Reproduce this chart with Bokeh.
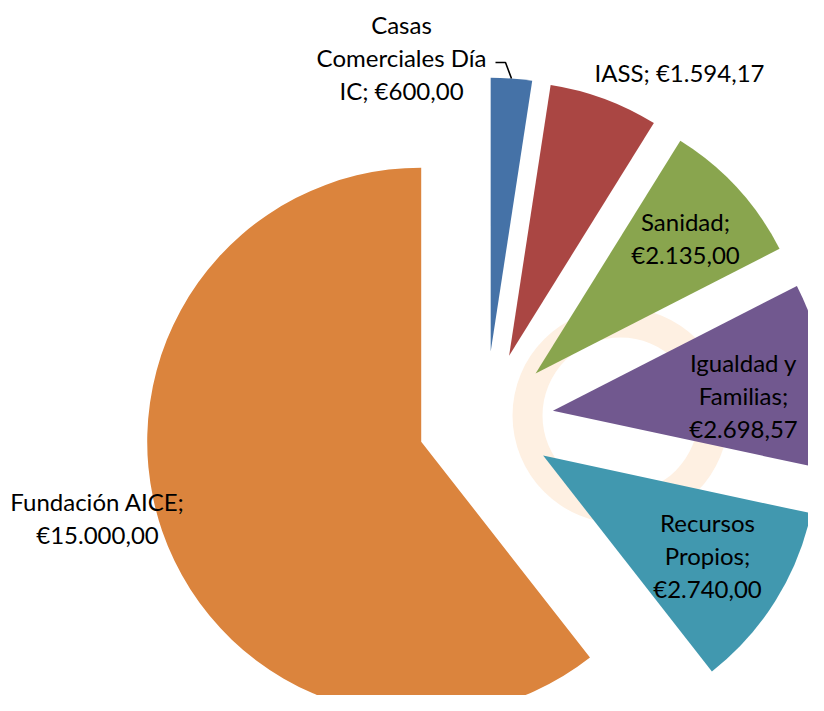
import numpy as np
from bokeh.plotting import figure
from bokeh.models import Range1d
from bokeh.embed import file_html
from bokeh.resources import INLINE
from bokeh.core.properties import value

# ---------------- data ----------------
categories = ["Casas Comerciales Día IC", "IASS", "Sanidad",
              "Igualdad y Familias", "Recursos Propios", "Fundación AICE"]
amounts = [600.00, 1594.17, 2135.00, 2698.57, 2740.00, 15000.00]
# how each data label is broken into lines ({v} = formatted value)
label_templates = [
    ["Casas", "Comerciales Día", "IC; {v}"],
    ["IASS; {v}"],
    ["Sanidad;", "{v}"],
    ["Igualdad y", "Familias;", "{v}"],
    ["Recursos", "Propios;", "{v}"],
    ["Fundación AICE;", "{v}"],
]

# ---------------- style / layout ----------------
colors = ["#4572A7", "#AA4643", "#89A54E", "#71588F", "#4198AF", "#DB843D"]
W, H = 808, 695
OFF = 0                       # figure pixel = reference pixel - OFF
CX, CY = 485.0, 419.0         # pie centre (reference pixels)
R = 274.0                     # radius
EXPLODE = 68.0                # explosion distance
FONT = "Lato"
FS = 24
LINE_H = 33
# centre of each label block (reference pixels)
label_anchor = [(401, 56), (679, 71), (685, 236), (743, 394), (707, 554), (97, 516)]


def eur(v):
    s = f"{v:,.2f}"
    s = s.replace(",", "X").replace(".", ",").replace("X", ".")
    return "€" + s


def to_data(x, y):
    return x, -y


p = figure(width=W, height=H, output_backend="svg", toolbar_location=None,
           x_range=Range1d(OFF, OFF + W), y_range=Range1d(-(OFF + H), -OFF),
           min_border=0, background_fill_color="white", border_fill_color="white")
p.axis.visible = False
p.grid.visible = False
p.outline_line_color = None

# faint background watermark ring
wx, wy = to_data(620, 415)
p.annulus(x=wx, y=wy, inner_radius=78, outer_radius=108,
          fill_color="#FEF0E2", line_color=None)

total = float(sum(amounts))
cum = np.cumsum([0.0] + amounts)
theta0 = cum[:-1] / total * 2 * np.pi     # clockwise from north
theta1 = cum[1:] / total * 2 * np.pi
mid = (theta0 + theta1) / 2

apex = []
for i in range(len(amounts)):
    ax = CX + EXPLODE * np.sin(mid[i])
    ay = CY - EXPLODE * np.cos(mid[i])
    apex.append((ax, ay))
    dx, dy = to_data(ax, ay)
    p.wedge(x=dx, y=dy, radius=R,
            start_angle=np.pi / 2 - theta1[i], end_angle=np.pi / 2 - theta0[i],
            fill_color=colors[i], line_color=None)

# leader line for the small first slice
ax0, ay0 = apex[0]
tip = (ax0 + R * np.sin(mid[0]), ay0 - R * np.cos(mid[0]))
pts = [(495, 62), (505, 62), tip]
p.line(x=[q[0] for q in pts], y=[-q[1] for q in pts], line_color="#000000", line_width=1.6)

# labels
for i, tpl in enumerate(label_templates):
    lines = [t.format(v=eur(amounts[i])) for t in tpl]
    cx, cy = label_anchor[i]
    n = len(lines)
    for k, ln in enumerate(lines):
        ly = cy + (k - (n - 1) / 2) * LINE_H + 1
        tx, ty = to_data(cx, ly)
        p.text(x=[tx], y=[ty], text=[ln], text_font=value(FONT),
               text_font_size=f"{FS}px", text_align="center",
               text_baseline="middle", text_color="#000000")

open("out.html", "w").write(file_html(p, INLINE))
